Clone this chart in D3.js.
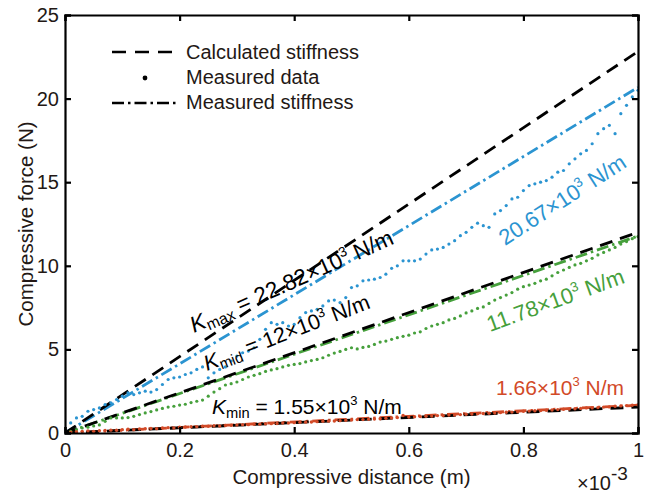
<!DOCTYPE html>
<html>
<head>
<meta charset="utf-8">
<script src="https://cdn.jsdelivr.net/npm/d3@7"></script>
<style>
  body { margin: 0; background: #fff; }
  svg { display: block; font-family: "Liberation Sans", Arial, sans-serif; }
  text { fill: #231815; }
</style>
</head>
<body>
<div id="chart"></div>
<script>
// x in 1e-3 m, force in N
const xTicks = [0, 0.2, 0.4, 0.6, 0.8, 1];
const yTicks = [0, 5, 10, 15, 20, 25];

// stiffness lines (x10^3 N/m), force at x = 1e-3 m equals the value
const calcK = [22.82, 12, 1.55];
const measK = [20.67, 11.78, 1.66];

// measured data, sampled every 0.01e-3 m
const blueData = [0, 0.6, 0.9, 1.0, 1.3, 1.4, 1.5, 1.7, 1.8, 2.0, 2.2, 2.4, 2.3, 2.4, 2.5, 2.45, 2.6, 2.9, 3.2, 3.3,
  3.35, 3.5, 3.6, 3.8, 3.95, 3.3, 3.6, 3.8, 3.95, 4.3, 4.6, 4.8, 4.9, 5.1, 5.6, 6.2, 6.6, 6.5, 6.6, 6.4,
  6.5, 6.9, 7.2, 7.3, 7.4, 7.6, 7.9, 7.95, 7.8, 8.1, 8.7, 8.8, 9.1, 9.15, 9.2, 9.3, 9.5, 9.85, 10.0, 10.3,
  10.3, 10.3, 10.4, 10.7, 10.95, 11.0, 11.1, 11.3, 11.5, 11.8, 12.0, 12.3, 12.55, 12.4, 12.3, 13.1, 13.3, 13.6, 14.0, 14.1,
  14.5, 14.8, 14.9, 15.0, 15.1, 15.3, 15.6, 15.7, 16.1, 16.4, 16.7, 16.9, 17.3, 17.9, 18.2, 18.4, 17.9, 19.1, 19.6, 20.1, 20.5];
const greenData = [0, 0.1, 0.2, 0.3, 0.35, 0.42, 0.48, 0.7, 0.9, 0.9, 0.9, 0.92, 1.0, 1.1, 1.2, 1.28, 1.38, 1.47, 1.55, 1.6,
  1.67, 1.72, 1.82, 1.9, 1.97, 2.2, 2.45, 2.65, 2.87, 2.95, 3.05, 3.2, 3.35, 3.45, 3.55, 3.68, 3.77, 3.85, 3.95, 4.05,
  4.1, 4.15, 4.25, 4.33, 4.4, 4.5, 4.65, 4.78, 4.88, 5.0, 5.1, 5.03, 5.12, 5.18, 5.3, 5.44, 5.5, 5.6, 5.7, 5.78,
  5.85, 5.98, 6.05, 6.25, 6.4, 6.5, 6.6, 6.76, 6.85, 7.0, 7.18, 7.3, 7.45, 7.54, 7.75, 7.95, 8.1, 8.25, 8.4, 8.6,
  8.75, 8.85, 8.95, 9.1, 9.2, 9.4, 9.6, 9.75, 9.9, 10.05, 10.15, 10.3, 10.45, 10.65, 10.8, 10.95, 11.1, 11.3, 11.45, 11.62, 11.75];
const redData = [0, 0.05, 0.08, 0.1, 0.12, 0.1, 0.14, 0.15, 0.17, 0.16, 0.2, 0.22, 0.2, 0.24, 0.25, 0.27, 0.26, 0.3, 0.32, 0.3,
  0.35, 0.36, 0.37, 0.38, 0.4, 0.4, 0.43, 0.42, 0.45, 0.46, 0.48, 0.5, 0.5, 0.52, 0.53, 0.55, 0.56, 0.57, 0.6, 0.6,
  0.62, 0.64, 0.65, 0.66, 0.68, 0.7, 0.71, 0.72, 0.74, 0.76, 0.78, 0.8, 0.8, 0.82, 0.84, 0.85, 0.88, 0.9, 0.92, 1.05,
  0.95, 0.97, 0.98, 1.0, 1.02, 1.04, 1.05, 1.07, 1.08, 1.1, 1.12, 1.14, 1.15, 1.17, 1.18, 1.2, 1.22, 1.24, 1.25, 1.27,
  1.3, 1.31, 1.33, 1.34, 1.36, 1.38, 1.4, 1.42, 1.43, 1.45, 1.47, 1.5, 1.5, 1.52, 1.55, 1.56, 1.6, 1.62, 1.64, 1.66, 1.68];

const colors = ["#2b94d1", "#46a03c", "#d24a28"];
const ink = "#231815";

const width = 649, height = 493;
const x = d3.scaleLinear().domain([0, 1]).range([65, 638]);
const y = d3.scaleLinear().domain([0, 25]).range([433, 15]);

const svg = d3.select("#chart").append("svg")
    .attr("width", width)
    .attr("height", height);

svg.append("defs").append("clipPath").attr("id", "plot")
    .append("rect")
    .attr("x", x(0)).attr("y", y(25))
    .attr("width", x(1) - x(0)).attr("height", y(0) - y(25));

const plot = svg.append("g").attr("clip-path", "url(#plot)");

// measured stiffness (dash-dot)
plot.selectAll("line.meas")
    .data(measK)
    .enter().append("line")
    .attr("class", "meas")
    .attr("x1", x(0)).attr("y1", y(0))
    .attr("x2", x(1)).attr("y2", d => y(d))
    .attr("stroke", (d, i) => colors[i])
    .attr("stroke-width", 2.8)
    .attr("stroke-dasharray", "12,4,2.5,4");

// calculated stiffness (dashed)
plot.selectAll("line.calc")
    .data(calcK)
    .enter().append("line")
    .attr("class", "calc")
    .attr("x1", x(0)).attr("y1", y(0))
    .attr("x2", x(1)).attr("y2", d => y(d))
    .attr("stroke", "#000")
    .attr("stroke-width", 2.8)
    .attr("stroke-dasharray", "13,8");

// measured data dots
[blueData, greenData, redData].forEach((series, i) => {
    plot.append("g").selectAll("circle")
        .data(series)
        .enter().append("circle")
        .attr("cx", (d, j) => x(j / 100))
        .attr("cy", d => y(d))
        .attr("r", i === 2 ? 1.7 : 1.6)
        .attr("fill", colors[i]);
});

// axes (ticks inward on all four sides)
const fmt = d3.format("");
svg.append("g")
    .attr("transform", `translate(0,${y(0)})`)
    .call(d3.axisBottom(x).tickValues(xTicks).tickSize(-6).tickPadding(10).tickFormat(fmt));
svg.append("g")
    .attr("transform", `translate(0,${y(25)})`)
    .call(d3.axisTop(x).tickValues(xTicks).tickSize(-6).tickFormat(""));
svg.append("g")
    .attr("transform", `translate(${x(0)},0)`)
    .call(d3.axisLeft(y).tickValues(yTicks).tickSize(-6).tickPadding(6).tickFormat(fmt));
svg.append("g")
    .attr("transform", `translate(${x(1)},0)`)
    .call(d3.axisRight(y).tickValues(yTicks).tickSize(-6).tickFormat(""));

svg.selectAll(".domain, .tick line").attr("stroke", "#000").attr("stroke-width", 2.2);
svg.selectAll(".tick text").attr("font-size", 20).attr("fill", ink);
svg.selectAll("g").filter(function () { return this.hasAttribute("font-family"); })
    .attr("font-family", null);

// axis titles
svg.append("text")
    .attr("x", (x(0) + x(1)) / 2).attr("y", 484)
    .attr("text-anchor", "middle").attr("font-size", 20.5)
    .text("Compressive distance (m)");
svg.append("text")
    .attr("transform", `translate(33,${(y(0) + y(25)) / 2}) rotate(-90)`)
    .attr("text-anchor", "middle").attr("font-size", 20.5)
    .text("Compressive force (N)");
const mult = svg.append("text").attr("x", 577).attr("y", 490).attr("font-size", 20);
mult.append("tspan").text("×10");
mult.append("tspan").attr("dy", -10).attr("font-size", 19).text("-3");

// legend
const legend = svg.append("g");
legend.append("line")
    .attr("x1", 112).attr("x2", 179).attr("y1", 52).attr("y2", 52)
    .attr("stroke", "#000").attr("stroke-width", 2.4).attr("stroke-dasharray", "14,9");
legend.append("circle").attr("cx", 145).attr("cy", 78).attr("r", 2.4).attr("fill", "#000");
legend.append("line")
    .attr("x1", 112).attr("x2", 179).attr("y1", 103).attr("y2", 103)
    .attr("stroke", "#000").attr("stroke-width", 2.4).attr("stroke-dasharray", "12,4,2.5,4");
["Calculated stiffness", "Measured data", "Measured stiffness"].forEach((t, i) => {
    legend.append("text")
        .attr("x", 186).attr("y", 59 + i * 25)
        .attr("font-size", 20)
        .text(t);
});

// annotations
function label(px, py, angle, color, size, parts) {
    const t = svg.append("text")
        .attr("transform", `translate(${px},${py}) rotate(${angle})`)
        .attr("font-size", size)
        .style("fill", color);
    parts.forEach(p => {
        const s = t.append("tspan").text(p.t);
        if (p.it) s.attr("font-style", "italic");
        if (p.sub) s.attr("font-size", size * 0.7).attr("dy", 4);
        if (p.sup) s.attr("font-size", size * 0.62).attr("dy", -9);
        if (p.back) s.attr("dy", p.back);
    });
}
label(194, 333, -24, "#000", 22.5, [
    { t: "K", it: true }, { t: "max", sub: true }, { t: " = 22.82×10", back: -4 }, { t: "3", sup: true }, { t: " N/m", back: 9 }]);
label(207, 371, -21, "#000", 21.5, [
    { t: "K", it: true }, { t: "mid", sub: true }, { t: " = 12×10", back: -4 }, { t: "3", sup: true }, { t: " N/m", back: 9 }]);
label(212, 414, 0, "#000", 21, [
    { t: "K", it: true }, { t: "min", sub: true }, { t: " = 1.55×10", back: -4 }, { t: "3", sup: true }, { t: " N/m", back: 9 }]);
label(505, 246, -33, colors[0], 22, [
    { t: "20.67×10" }, { t: "3", sup: true }, { t: " N/m", back: 9 }]);
label(490, 332, -20, colors[1], 22, [
    { t: "11.78×10" }, { t: "3", sup: true }, { t: " N/m", back: 9 }]);
label(496, 395, 0, colors[2], 21, [
    { t: "1.66×10" }, { t: "3", sup: true }, { t: " N/m", back: 9 }]);
</script>
</body>
</html>
